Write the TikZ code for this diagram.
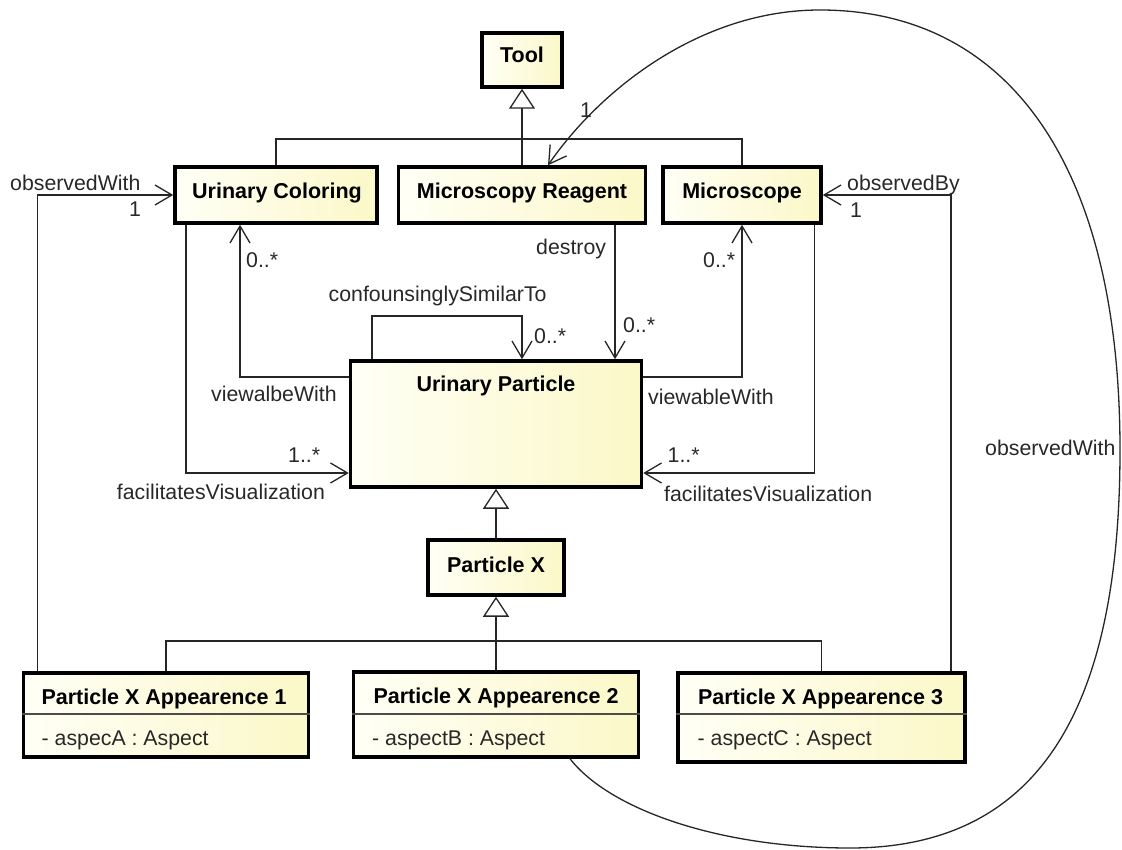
\documentclass[tikz,border=0pt]{standalone}
\usepackage{fontspec}
\setmainfont{Liberation Sans}
\usetikzlibrary{arrows.meta}
\definecolor{ylwL}{RGB}{255,255,246}
\definecolor{ylwR}{RGB}{251,248,200}
\definecolor{txt}{RGB}{40,40,40}
\begin{document}
\begin{tikzpicture}[x=1pt,y=-1pt,
  cls/.style={draw=black, line width=3.5pt, left color=ylwL, right color=ylwR, inner sep=0pt},
  ttl/.style={inner sep=0pt, anchor=base, font=\fontsize{21.5}{25}\selectfont\bfseries},
  lbl/.style={inner sep=0pt, anchor=base west, font=\fontsize{21.3}{25}\selectfont, text=txt},
  conn/.style={line width=1.3pt, draw=black!85},
  divl/.style={line width=1.6pt, draw=black!70},
  assoc/.style={conn, -{Straight Barb[length=17pt,width=20pt]}},
  gen/.style={conn, -{Triangle[length=20pt,width=26pt,fill=white]}},
]
\useasboundingbox (0,0) rectangle (1122,850);

% classes
\node[cls, minimum width=80pt, minimum height=54pt] (tool) at (522,60) {};
\node[ttl] (toolT) at (522,62.7) {Tool};

\node[cls, minimum width=202pt, minimum height=56pt] (uc) at (276,195) {};
\node[ttl] (ucT) at (277,199) {Urinary Coloring};

\node[cls, minimum width=247pt, minimum height=56pt] (mr) at (522,195) {};
\node[ttl] (mrT) at (522,199) {Microscopy Reagent};

\node[cls, minimum width=158pt, minimum height=56pt] (ms) at (742,195) {};
\node[ttl] (msT) at (742,199) {Microscope};

\node[cls, minimum width=291pt, minimum height=126pt] (up) at (496,424) {};
\node[ttl] (upT) at (496,391.5) {Urinary Particle};

\node[cls, minimum width=136pt, minimum height=55pt] (px) at (496,567.5) {};
\node[ttl] (pxT) at (496,572) {Particle X};

\node[cls, minimum width=285pt, minimum height=84pt] (a1) at (166,715) {};
\node[ttl] (a1T) at (164,704) {Particle X Appearence 1};
\draw[divl] (a1.west |- 0,714) -- (a1.east |- 0,714);
\node[lbl] (a1A) at (41.5,745) {- aspecA : Aspect};

\node[cls, minimum width=285pt, minimum height=85pt] (a2) at (496,714.5) {};
\node[ttl] (a2T) at (496,703) {Particle X Appearence 2};
\draw[divl] (a2.west |- 0,714) -- (a2.east |- 0,714);
\node[lbl] (a2A) at (372,745) {- aspectB : Aspect};

\node[cls, minimum width=287pt, minimum height=89pt] (a3) at (821.5,717.5) {};
\node[ttl] (a3T) at (820.5,704) {Particle X Appearence 3};
\draw[divl] (a3.west |- 0,714) -- (a3.east |- 0,714);
\node[lbl] (a3A) at (697.5,745) {- aspectC : Aspect};

% generalizations
\coordinate (g1) at (522,139);
\draw[gen] (mr.north) -- (tool.south);
\draw[conn] (uc.north) |- (g1) -| (ms.north);

\coordinate (g2) at (496,641);
\draw[gen] (a2.north) -- (px.south);
\draw[conn] (a1.north) |- (g2) -| (a3.north);
\draw[gen] (px.north) -- (up.south);

% associations
\draw[assoc] (a1.north -| 37.5,0) |- (uc.west);
\draw[assoc] (up.west |- 0,377) -| (uc.south -| 240,0);
\draw[assoc] (uc.south -| 186,0) |- (up.west |- 0,473);
\draw[assoc] (up.north -| 372,0) |- (450,316) -| (up.north -| 522,0);
\draw[assoc] (mr.south -| 615,0) -- (up.north -| 615,0);
\draw[assoc] (up.east |- 0,377) -| (ms.south);
\draw[assoc] (ms.south -| 814.5,0) |- (up.east |- 0,473);
\draw[assoc] (a3.north -| 951,0) |- (ms.east);
\draw[assoc] (a2.south -| 570,0) .. controls (610,810) and (720,848) .. (850,848)
  .. controls (1045,848) and (1120,700) .. (1120,450)
  .. controls (1120,160) and (1005,10) .. (820,10)
  .. controls (700,10) and (600,90) .. (mr.north -| 548,0);

% labels
\node[lbl] (l1) at (10,190.5) {observedWith};
\node[lbl] (l2) at (129,217) {1};
\node[lbl] (l3) at (246,268) {0..*};
\node[lbl] (l4) at (328.5,302) {confounsinglySimilarTo};
\node[lbl] (l5) at (534,344) {0..*};
\node[lbl] (l6) at (536,254.5) {destroy};
\node[lbl] (l7) at (623,333) {0..*};
\node[lbl] (l8) at (703,268) {0..*};
\node[lbl] (l9) at (211,401) {viewalbeWith};
\node[lbl] (l10) at (648,404) {viewableWith};
\node[lbl] (l11) at (288,462) {1..*};
\node[lbl] (l12) at (116.7,499) {facilitatesVisualization};
\node[lbl] (l13) at (667.5,462) {1..*};
\node[lbl] (l14) at (664,501) {facilitatesVisualization};
\node[lbl] (l15) at (847,190.5) {observedBy};
\node[lbl] (l16) at (850,218) {1};
\node[lbl] (l17) at (580,118) {1};
\node[lbl] (l18) at (985,455) {observedWith};
\end{tikzpicture}
\end{document}
